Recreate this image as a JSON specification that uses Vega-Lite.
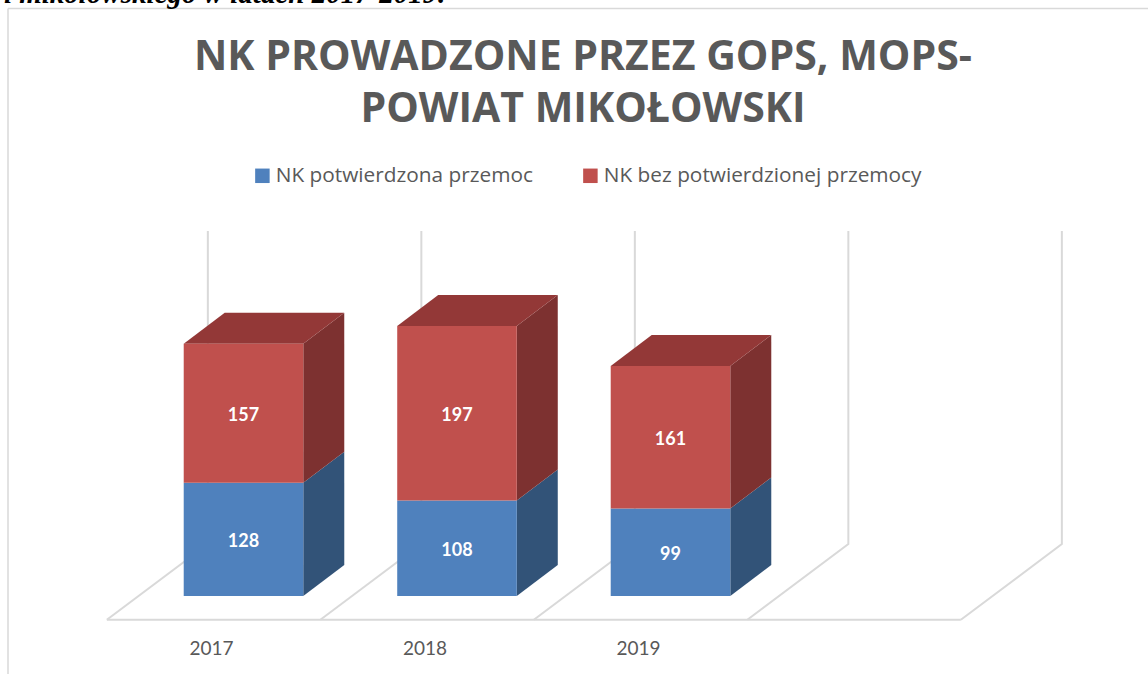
{
"$schema":"https://vega.github.io/schema/vega-lite/v6.json",
"width":1148,"height":674,"padding":0,"autosize":{"type":"none"},"background":"white",
"config":{"view":{"stroke":null}},
"title":{"text":["NK PROWADZONE PRZEZ GOPS, MOPS-","POWIAT MIKOŁOWSKI"],"font":"Open Sans","fontWeight":"bold","fontSize":41,"lineHeight":52,"color":"#595959","anchor":"middle","dx":9,"offset":-151},
"datasets":{
"bars":[
{"year":2017,"series":"NK potwierdzona przemoc","value":128},
{"year":2017,"series":"NK bez potwierdzionej przemocy","value":157},
{"year":2018,"series":"NK potwierdzona przemoc","value":108},
{"year":2018,"series":"NK bez potwierdzionej przemocy","value":197},
{"year":2019,"series":"NK potwierdzona przemoc","value":99},
{"year":2019,"series":"NK bez potwierdzionej przemocy","value":161}],
"edges":[{"edge":2016.36},{"edge":2017.36},{"edge":2018.36},{"edge":2019.36},{"edge":2020.36}]
},
"layer":[
{"data":{"values":[{"a":2016}]},"mark":{"type":"rule","color":"#D9D9D9","strokeWidth":1.5},
 "encoding":{"x":{"datum":2015.897,"type":"quantitative","axis":null,"scale":{"domain":[2015.8595,2021.2365],"nice":false,"zero":false}},
 "y":{"datum":663.8,"type":"quantitative","axis":null,"scale":{"domain":[-88.1,673.4],"nice":false,"zero":false}},
 "x2":{"datum":2021.2365}}},
{"data":{"values":[{"a":2016}]},"mark":{"type":"rule","color":"#D9D9D9","strokeWidth":1.5},
 "encoding":{"x":{"datum":2015.897,"type":"quantitative"},"y":{"datum":663.8,"type":"quantitative"},"y2":{"datum":-88.1}}},
{"data":{"values":[{"note":"i mikołowskiego w latach 2017-2019:"}]},"mark":{"type":"text","font":"Liberation Serif","fontWeight":"bold","fontStyle":"italic","fontSize":29,"align":"right","baseline":"alphabetic","color":"black"},
 "encoding":{"x":{"datum":2017.953,"type":"quantitative"},"y":{"datum":670,"type":"quantitative"},"text":{"field":"note"}}},
{"data":{"name":"edges"},
 "transform":[{"calculate":"[0,1,2]","as":"k"},{"flatten":["k"]},
 {"calculate":"datum.edge+(datum.k==0?0:0.473)","as":"gx"},
 {"calculate":"[-26.8,58.8,412.4][datum.k]","as":"gy"}],
 "mark":{"type":"line","color":"#D9D9D9","strokeWidth":2,"interpolate":"linear"},
 "encoding":{"x":{"field":"gx","type":"quantitative"},"y":{"field":"gy","type":"quantitative"},"detail":{"field":"edge"},"order":{"field":"k"}}},
{"data":{"values":[{"a":2016}]},"mark":{"type":"rule","color":"#D9D9D9","strokeWidth":2},
 "encoding":{"x":{"datum":2016.36,"type":"quantitative"},"x2":{"datum":2020.36},"y":{"datum":-26.8,"type":"quantitative"}}},
{"data":{"name":"bars"},
 "transform":[{"stack":"value","groupby":["year"],"as":["y0","y1"],"sort":[{"field":"series","order":"descending"}]},
 {"filter":"datum.series=='NK potwierdzona przemoc'"},
 {"calculate":"[0,1]","as":"k"},{"flatten":["k"]},
 {"calculate":"datum.year+0.28+datum.k*0.192","as":"sx"},
 {"calculate":"datum.y0+datum.k*35","as":"sy0"},
 {"calculate":"datum.y1+datum.k*35","as":"sy1"}],
 "mark":{"type":"area","color":"#325378"},
 "encoding":{"x":{"field":"sx","type":"quantitative"},"y":{"field":"sy0","type":"quantitative"},"y2":{"field":"sy1"},"detail":{"field":"year","type":"nominal"}}},
{"data":{"name":"bars"},
 "transform":[{"stack":"value","groupby":["year"],"as":["y0","y1"],"sort":[{"field":"series","order":"descending"}]},
 {"filter":"datum.series=='NK bez potwierdzionej przemocy'"},
 {"calculate":"[0,1]","as":"k"},{"flatten":["k"]},
 {"calculate":"datum.year+0.28+datum.k*0.192","as":"sx"},
 {"calculate":"datum.y0+datum.k*35","as":"sy0"},
 {"calculate":"datum.y1+datum.k*35","as":"sy1"}],
 "mark":{"type":"area","color":"#7D3130"},
 "encoding":{"x":{"field":"sx","type":"quantitative"},"y":{"field":"sy0","type":"quantitative"},"y2":{"field":"sy1"},"detail":{"field":"year","type":"nominal"}}},
{"data":{"name":"bars"},
 "transform":[{"stack":"value","groupby":["year"],"as":["y0","y1"],"sort":[{"field":"series","order":"descending"}]},
 {"filter":"datum.series=='NK bez potwierdzionej przemocy'"},
 {"calculate":"[0,1,2,3]","as":"k"},{"flatten":["k"]},
 {"calculate":"datum.year-0.28+[0,0.192,0.56,0.752][datum.k]","as":"tx"},
 {"calculate":"datum.y1+(datum.k==0?0:35)","as":"ty0"},
 {"calculate":"datum.y1+(datum.k==3?35:0)","as":"ty1"}],
 "mark":{"type":"area","color":"#933837"},
 "encoding":{"x":{"field":"tx","type":"quantitative"},"y":{"field":"ty0","type":"quantitative"},"y2":{"field":"ty1"},"detail":{"field":"year","type":"nominal"}}},
{"data":{"name":"bars"},
 "transform":[{"stack":"value","groupby":["year"],"as":["y0","y1"],"sort":[{"field":"series","order":"descending"}]},
 {"calculate":"datum.year-0.28","as":"xl"},{"calculate":"datum.year+0.28","as":"xr"}],
 "mark":{"type":"rect"},
 "encoding":{"x":{"field":"xl","type":"quantitative"},"x2":{"field":"xr"},"y":{"field":"y0","type":"quantitative"},"y2":{"field":"y1"},
 "color":{"field":"series","type":"nominal","scale":{"domain":["NK potwierdzona przemoc","NK bez potwierdzionej przemocy"],"range":["#4F81BD","#C0504D"]},
 "legend":{"title":null,"orient":"none","legendX":252,"legendY":165,"direction":"horizontal","columns":2,"symbolType":"square","symbolSize":210,"symbolStrokeWidth":0,"labelFont":"Open Sans","labelFontSize":20.8,"labelColor":"#595959","labelLimit":400,"labelOffset":3,"columnPadding":47}}}},
{"data":{"name":"bars"},
 "transform":[{"stack":"value","groupby":["year"],"as":["y0","y1"],"sort":[{"field":"series","order":"descending"}]},
 {"calculate":"(datum.y0+datum.y1)/2-3","as":"ym"}],
 "mark":{"type":"text","font":"Lato","fontWeight":"bold","fontSize":18,"color":"white","baseline":"middle"},
 "encoding":{"x":{"field":"year","type":"quantitative"},"y":{"field":"ym","type":"quantitative"},"text":{"field":"value","type":"quantitative"}}},
{"data":{"name":"bars"},
 "transform":[{"filter":"datum.series=='NK potwierdzona przemoc'"},{"calculate":"datum.year-0.15","as":"lx"}],
 "mark":{"type":"text","font":"Lato","fontSize":19,"color":"#595959","baseline":"middle"},
 "encoding":{"x":{"field":"lx","type":"quantitative"},"y":{"datum":-60,"type":"quantitative"},"text":{"field":"year","type":"nominal"}}}
]
}
